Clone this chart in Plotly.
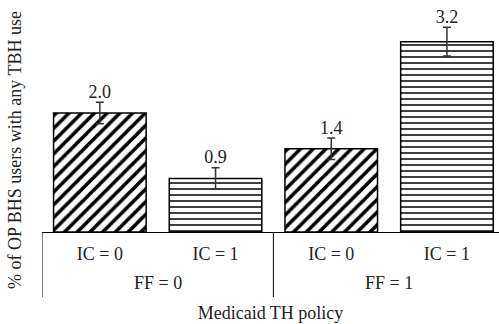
import plotly.graph_objects as go

ff_groups = ["FF = 0", "FF = 0", "FF = 1", "FF = 1"]
ic_groups = ["IC = 0", "IC = 1", "IC = 0", "IC = 1"]
values = [2.0, 0.9, 1.4, 3.2]
errors = [0.18, 0.18, 0.18, 0.24]
labels = ["2.0", "0.9", "1.4", "3.2"]
patterns = ["/", "-", "/", "-"]

FONT = "Liberation Serif"
TXT = "#222"

pos = list(range(len(values)))
groups = list(dict.fromkeys(ff_groups))
group_pos = {g: [p for p, f in zip(pos, ff_groups) if f == g] for g in groups}

fig = go.Figure()
fig.add_trace(go.Bar(
    x=pos,
    y=values,
    marker=dict(
        color="white",
        line=dict(color="black", width=1.5),
        pattern=dict(shape=patterns, fgcolor="black", bgcolor="white", fgopacity=1,
                     size=[9, 6, 9, 6], solidity=[0.4, 0.25, 0.4, 0.25]),
    ),
    error_y=dict(type="data", array=errors, visible=True,
                 color="#333333", thickness=1.5, width=4),
    showlegend=False,
    hoverinfo="skip",
))
fig.add_trace(go.Scatter(
    x=pos,
    y=[v + e for v, e in zip(values, errors)],
    mode="text",
    text=labels,
    textposition="top center",
    textfont=dict(family=FONT, size=18, color=TXT),
    showlegend=False,
    cliponaxis=False,
    hoverinfo="skip",
))

PH = 232  # plot height in px
annotations = [dict(
    text="% of OP BHS users with any TBH use",
    xref="paper", yref="paper", x=-27/457, y=(PH - 150) / PH,
    xanchor="center", yanchor="middle", textangle=-90, showarrow=False,
    font=dict(family=FONT, size=18, color=TXT),
)]
shapes = []
for g in groups:
    ps = group_pos[g]
    annotations.append(dict(
        text=g, x=sum(ps) / len(ps), xref="x", yref="paper", y=-(283 - PH) / PH,
        xanchor="center", yanchor="middle", showarrow=False,
        font=dict(family=FONT, size=18, color=TXT),
    ))
    shapes.append(dict(
        type="line", xref="x", yref="paper", x0=min(ps) - 0.5, x1=min(ps) - 0.5,
        y0=0, y1=-(297 - PH) / PH, line=dict(color="black", width=1),
    ))

fig.update_layout(
    width=499, height=324,
    margin=dict(l=42, r=0, t=0, b=92),
    plot_bgcolor="white", paper_bgcolor="white",
    bargap=0.2,
    font=dict(family=FONT, size=18, color=TXT),
    xaxis=dict(
        range=[-0.5, 3.45],
        automargin=False,
        showline=True, linecolor="black", linewidth=1,
        tickvals=pos, ticktext=ic_groups,
        ticks="outside", ticklen=5, tickcolor="rgba(0,0,0,0)",
        tickfont=dict(family=FONT, size=18, color=TXT),
        title=dict(text="Medicaid TH policy", font=dict(family=FONT, size=18, color=TXT), standoff=43),
        showgrid=False, zeroline=False,
    ),
    yaxis=dict(
        range=[0, 3.9], showline=False, showgrid=False, zeroline=False,
        showticklabels=False, ticks="", automargin=False,
    ),
    annotations=annotations,
    shapes=shapes,
)
fig.write_html("out.html", config={"displayModeBar": False},
               post_script="document.body.style.margin='0px';")
